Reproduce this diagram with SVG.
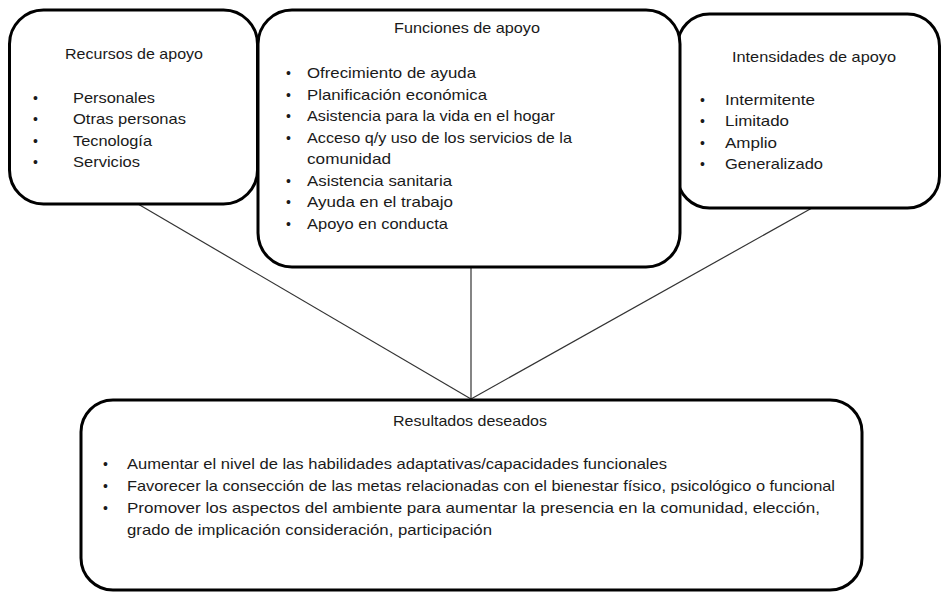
<svg xmlns="http://www.w3.org/2000/svg" width="941" height="592" viewBox="0 0 941 592">
  <style>
    .box { fill: #ffffff; stroke: #000000; stroke-width: 3; }
    .conn { stroke: #333333; stroke-width: 1.2; fill: none; }
    text { font-family: "Liberation Sans", Arial, sans-serif; font-size: 15px; fill: #1a1a1a; }
    .b { font-size: 14px; }
  </style>
  <rect width="941" height="592" fill="#ffffff"/>

  <g id="connectors">
    <line class="conn" x1="138" y1="204" x2="471" y2="399"/>
    <line class="conn" x1="471" y1="267" x2="471" y2="399"/>
    <line class="conn" x1="812" y1="208" x2="471" y2="399"/>
  </g>

  <g id="recursos">
    <rect class="box" x="9.5" y="10" width="248" height="194" rx="34" ry="34"/>
    <text x="65" y="59" textLength="138" lengthAdjust="spacingAndGlyphs">Recursos de apoyo</text>
    <text class="b" x="33" y="103">•</text>
    <text class="b" x="33" y="124">•</text>
    <text class="b" x="33" y="146">•</text>
    <text class="b" x="33" y="167">•</text>
    <text x="73" y="103" textLength="82" lengthAdjust="spacingAndGlyphs">Personales</text>
    <text x="73" y="124" textLength="113" lengthAdjust="spacingAndGlyphs">Otras personas</text>
    <text x="73" y="146" textLength="79" lengthAdjust="spacingAndGlyphs">Tecnología</text>
    <text x="73" y="167" textLength="67" lengthAdjust="spacingAndGlyphs">Servicios</text>
  </g>

  <g id="intensidades">
    <rect class="box" x="677.5" y="14" width="262" height="194" rx="32" ry="32"/>
    <text x="732" y="62" textLength="164" lengthAdjust="spacingAndGlyphs">Intensidades de apoyo</text>
    <text class="b" x="700" y="105">•</text>
    <text class="b" x="700" y="126">•</text>
    <text class="b" x="700" y="148">•</text>
    <text class="b" x="700" y="169">•</text>
    <text x="725" y="105" textLength="90" lengthAdjust="spacingAndGlyphs">Intermitente</text>
    <text x="725" y="126" textLength="64" lengthAdjust="spacingAndGlyphs">Limitado</text>
    <text x="725" y="148" textLength="52" lengthAdjust="spacingAndGlyphs">Amplio</text>
    <text x="725" y="169" textLength="98" lengthAdjust="spacingAndGlyphs">Generalizado</text>
  </g>

  <g id="funciones">
    <rect class="box" x="258" y="10" width="422" height="257" rx="34" ry="34"/>
    <text x="394" y="33" textLength="146" lengthAdjust="spacingAndGlyphs">Funciones de apoyo</text>
    <text class="b" x="286" y="78">•</text>
    <text class="b" x="286" y="100">•</text>
    <text class="b" x="286" y="121">•</text>
    <text class="b" x="286" y="143">•</text>
    <text class="b" x="286" y="186">•</text>
    <text class="b" x="286" y="207">•</text>
    <text class="b" x="286" y="229">•</text>
    <text x="307" y="78" textLength="169" lengthAdjust="spacingAndGlyphs">Ofrecimiento de ayuda</text>
    <text x="307" y="100" textLength="180" lengthAdjust="spacingAndGlyphs">Planificación económica</text>
    <text x="307" y="121" textLength="248" lengthAdjust="spacingAndGlyphs">Asistencia para la vida en el hogar</text>
    <text x="307" y="143" textLength="265" lengthAdjust="spacingAndGlyphs">Acceso q/y uso de  los servicios de la</text>
    <text x="307" y="164" textLength="84" lengthAdjust="spacingAndGlyphs">comunidad</text>
    <text x="307" y="186" textLength="145" lengthAdjust="spacingAndGlyphs">Asistencia sanitaria</text>
    <text x="307" y="207" textLength="146" lengthAdjust="spacingAndGlyphs">Ayuda en el trabajo</text>
    <text x="307" y="229" textLength="141" lengthAdjust="spacingAndGlyphs">Apoyo en conducta</text>
  </g>

  <g id="resultados">
    <rect class="box" x="81" y="400" width="781" height="190" rx="32" ry="32"/>
    <text x="393" y="426" textLength="154" lengthAdjust="spacingAndGlyphs">Resultados deseados</text>
    <text class="b" x="103" y="469">•</text>
    <text class="b" x="103" y="491">•</text>
    <text class="b" x="103" y="513">•</text>
    <text x="127" y="469" textLength="540" lengthAdjust="spacingAndGlyphs">Aumentar  el nivel de las habilidades adaptativas/capacidades funcionales</text>
    <text x="127" y="491" textLength="708" lengthAdjust="spacingAndGlyphs">Favorecer  la consección de las metas relacionadas con el bienestar físico, psicológico o funcional</text>
    <text x="127" y="513" textLength="693" lengthAdjust="spacingAndGlyphs">Promover  los aspectos del ambiente  para aumentar la presencia en la comunidad, elección,</text>
    <text x="127" y="535" textLength="365" lengthAdjust="spacingAndGlyphs">grado de  implicación consideración, participación</text>
  </g>
</svg>
